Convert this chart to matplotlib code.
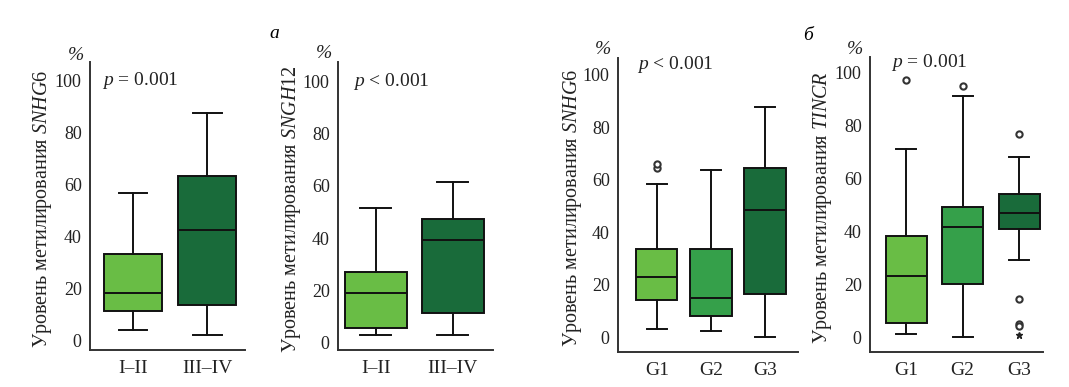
import matplotlib
matplotlib.use("Agg")
import matplotlib.pyplot as plt

plt.rcParams['font.family'] = ['Liberation Serif', 'DejaVu Serif']
plt.rcParams['mathtext.fontset'] = 'custom'
plt.rcParams['mathtext.rm'] = 'Liberation Serif'
plt.rcParams['mathtext.it'] = 'Liberation Serif:italic'

# ---- data ----
stage_labels = ["I–II", "III–IV"]
grade_labels = ["G1", "G2", "G3"]

# each: [whisker_low, q1, median, q3, whisker_high]
snhg6_stage = [[3.8, 11.3, 18.3, 33.0, 56.5], [1.9, 13.7, 42.5, 63.0, 87.5]]
sngh12_stage = [[3.0, 5.6, 19.0, 27.0, 51.5], [3.0, 11.6, 39.5, 47.5, 61.5]]
snhg6_grade = [[3.1, 14.1, 22.8, 33.6, 58.5], [2.4, 8.0, 15.1, 33.6, 63.5], [0.1, 16.6, 48.5, 64.5, 87.5]]
tincr_grade = [[1.2, 5.5, 23.2, 38.1, 71.0], [0.2, 20.1, 41.6, 49.2, 91.0], [29.3, 40.8, 46.8, 54.1, 68.0]]

snhg6_grade_fliers = [[64.5, 66.0], [], []]
tincr_grade_fliers = [[97.2], [94.7], [76.8, 14.7, 5.3, 4.3]]
tincr_grade_extremes = [[], [], [1.1]]

p_texts = ["$p$ = 0.001", "$p$ < 0.001", "$p$ < 0.001", "$p$ = 0.001"]
genes = ["SNHG6", "SNGH12", "SNHG6", "TINCR"]
yticks = [0, 20, 40, 60, 80, 100]

light = '#69bd45'
medium = '#35a04a'
dark = '#196b3a'

W, H = 1069, 387
fig = plt.figure(figsize=(W / 100, H / 100), dpi=100)


def add_ax(l, r, t, b):
    return fig.add_axes([l / W, 1 - b / H, (r - l) / W, (b - t) / H])


panels = [
    dict(box=(90, 245, 62, 350), ylim=(-3.8, 107), xlim=(0.42, 2.51), stats=snhg6_stage,
         labels=stage_labels, colors=[light, dark], width=0.78, fliers=None, extremes=None,
         ptxt=(0.58, 100), pct=(76, 55), ylab_x=-0.235),
    dict(box=(338, 493, 62, 350), ylim=(-2.7, 107.3), xlim=(0.51, 2.52), stats=sngh12_stage,
         labels=stage_labels, colors=[light, dark], width=0.8, fliers=None, extremes=None,
         ptxt=(0.70, 100), pct=(324, 54), ylab_x=-0.225),
    dict(box=(618, 798, 58, 352), ylim=(-5.6, 106.3), xlim=(0.28, 3.61), stats=snhg6_grade,
         labels=grade_labels, colors=[light, medium, dark], width=0.76, fliers=snhg6_grade_fliers,
         extremes=None, ptxt=(0.63, 104), pct=(603, 50), ylab_x=-0.19),
    dict(box=(870, 1043, 57, 352), ylim=(-5.4, 105.7), xlim=(0.36, 3.42), stats=tincr_grade,
         labels=grade_labels, colors=[light, medium, dark], width=0.72, fliers=tincr_grade_fliers,
         extremes=tincr_grade_extremes, ptxt=(0.73, 103.8), pct=(855, 50), ylab_x=-0.21),
]

for i, P in enumerate(panels):
    ax = add_ax(*P['box'])
    stats = []
    for j, s in enumerate(P['stats']):
        d = dict(whislo=s[0], q1=s[1], med=s[2], q3=s[3], whishi=s[4], label=P['labels'][j])
        d['fliers'] = P['fliers'][j] if P['fliers'] else []
        stats.append(d)
    n = len(stats)
    bp = ax.bxp(stats, positions=list(range(1, n + 1)), widths=P['width'],
                capwidths=P['width'] * 0.5, patch_artist=True,
                boxprops=dict(linewidth=1.4, edgecolor='#111111'),
                medianprops=dict(color='#111111', linewidth=1.4),
                whiskerprops=dict(color='#111111', linewidth=1.4),
                capprops=dict(color='#111111', linewidth=1.4),
                flierprops=dict(marker='o', markersize=4.5, markerfacecolor='white',
                                markeredgecolor='#333333', markeredgewidth=1.5))
    for patch, c in zip(bp['boxes'], P['colors']):
        patch.set_facecolor(c)
    if P['extremes']:
        for j, ex in enumerate(P['extremes']):
            if ex:
                ax.plot([j + 1] * len(ex), ex, linestyle='none', marker='*', markersize=5,
                        color='#222222')
    ax.set_xlim(*P['xlim'])
    ax.set_ylim(*P['ylim'])
    ax.set_yticks(yticks)
    ax.tick_params(axis='y', length=0, labelsize=13, colors='#222222', pad=6)
    ax.tick_params(axis='x', length=0, labelsize=14, colors='#222222', pad=7)
    for sp in ['top', 'right']:
        ax.spines[sp].set_visible(False)
    for sp in ['left', 'bottom']:
        ax.spines[sp].set_linewidth(1.4)
        ax.spines[sp].set_color('#333333')
    ax.set_ylabel("Уровень метилирования $\\mathit{" + genes[i] + "}$", fontsize=14.5, color='#222222')
    ax.yaxis.set_label_coords(P['ylab_x'], 0.49)
    ax.text(P['ptxt'][0], P['ptxt'][1], p_texts[i], fontsize=14, va='center', ha='left',
            color='#222222')
    fig.text(P['pct'][0] / W, 1 - P['pct'][1] / H, "%", fontsize=14, style='italic',
             ha='center', va='center', color='#222222')

fig.text(274 / W, 1 - 33 / H, "а", fontsize=14, style='italic', ha='center', va='center')
fig.text(808 / W, 1 - 35 / H, "б", fontsize=14, style='italic', ha='center', va='center')

fig.savefig("out.png", dpi=100)
